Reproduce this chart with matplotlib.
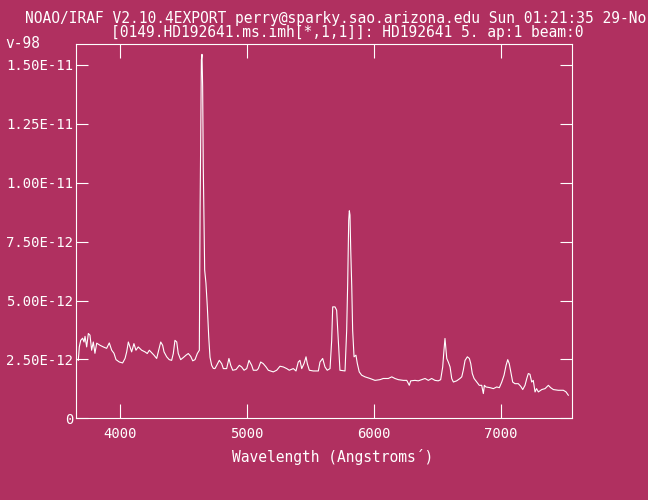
import matplotlib
matplotlib.use('Agg')
import matplotlib.pyplot as plt
from matplotlib.ticker import FuncFormatter

# spectrum: wavelength (Angstroms) and flux (units of 1E-12)
wave = [3675, 3683, 3694, 3709, 3720, 3728, 3741, 3754, 3767, 3780, 3793, 3806,
        3820, 3846, 3872, 3898, 3919, 3938, 3956, 3972, 3998, 4024, 4043, 4056,
        4069, 4082, 4095, 4113, 4129, 4147, 4174, 4200, 4218, 4234, 4253, 4271,
        4292, 4308, 4324, 4339, 4350, 4371, 4391, 4410, 4423, 4436, 4450, 4462,
        4481, 4502, 4523, 4541, 4560, 4576, 4594, 4612, 4628,
        4634, 4639, 4644, 4649, 4654, 4659, 4670, 4680, 4691, 4702, 4712, 4725,
        4738, 4751, 4765, 4785, 4804, 4817, 4843, 4861, 4875, 4891, 4917, 4943,
        4961, 4980, 5001, 5019, 5040, 5053, 5080, 5092, 5111, 5131, 5153, 5171,
        5210, 5237, 5263, 5289, 5316, 5336, 5368, 5389, 5407, 5420, 5434, 5452,
        5468, 5478, 5494, 5525, 5565, 5578, 5599, 5617, 5635, 5657, 5670, 5678,
        5696, 5709, 5722, 5735, 5775, 5788, 5796, 5804, 5809, 5814, 5820, 5828,
        5835, 5846, 5861, 5872, 5887, 5906, 5932, 5972, 6011, 6050, 6076, 6116,
        6143, 6168, 6195, 6234, 6261, 6281, 6292, 6326, 6352, 6379, 6405, 6431,
        6457, 6483, 6509, 6528, 6544, 6554, 6562, 6576, 6588, 6602, 6615, 6628,
        6654, 6680, 6694, 6706, 6720, 6738, 6754, 6765, 6777, 6791, 6812, 6832,
        6851, 6864, 6872, 6885, 6917, 6943, 6969, 6990, 7009, 7027, 7043, 7056,
        7068, 7080, 7095, 7113, 7139, 7158, 7174, 7192, 7206, 7218, 7231, 7245,
        7257, 7271, 7283, 7297, 7324, 7350, 7376, 7394, 7415, 7454, 7494, 7515,
        7533]
flux = [2.46, 3.03, 3.31, 3.40, 3.24, 3.48, 3.03, 3.60, 3.53, 2.89, 3.24, 2.76,
        3.19, 3.10, 3.03, 2.97, 3.20, 2.89, 2.76, 2.49, 2.39, 2.35, 2.54, 2.82,
        3.24, 3.03, 2.82, 3.17, 2.89, 3.03, 2.89, 2.82, 2.75, 2.89, 2.78, 2.68,
        2.54, 2.89, 3.24, 3.10, 2.82, 2.61, 2.49, 2.46, 2.75, 3.31, 3.24, 2.75,
        2.49, 2.58, 2.68, 2.75, 2.63, 2.44, 2.49, 2.75, 2.89,
        8.90, 12.24, 15.21, 15.45, 14.08, 10.68, 6.29, 5.74, 4.72, 3.44, 2.59, 2.25,
        2.12, 2.11, 2.25, 2.46, 2.32, 2.11, 2.11, 2.54, 2.25, 2.04, 2.07, 2.25,
        2.18, 2.04, 2.11, 2.46, 2.25, 2.04, 2.04, 2.11, 2.39, 2.32, 2.18, 2.04,
        1.97, 2.04, 2.21, 2.18, 2.11, 2.04, 2.11, 2.01, 2.39, 2.46, 2.11, 2.32,
        2.61, 2.32, 2.04, 2.01, 2.01, 2.39, 2.54, 2.18, 2.04, 2.11, 3.31, 4.73,
        4.73, 4.59, 3.31, 2.04, 2.01, 3.74, 5.74, 8.41, 8.81, 8.63, 7.14, 5.58,
        3.74, 2.61, 2.68, 2.32, 1.97, 1.83, 1.76, 1.69, 1.61, 1.64, 1.69, 1.69,
        1.76, 1.69, 1.64, 1.61, 1.61, 1.40, 1.59, 1.61, 1.59, 1.64, 1.69, 1.61,
        1.69, 1.61, 1.59, 1.64, 2.18, 2.89, 3.39, 2.54, 2.39, 2.18, 1.69, 1.54,
        1.59, 1.69, 1.76, 2.04, 2.46, 2.61, 2.54, 2.32, 1.90, 1.69, 1.54, 1.40,
        1.40, 1.05, 1.40, 1.33, 1.30, 1.26, 1.33, 1.30, 1.54, 1.83, 2.25, 2.49,
        2.32, 1.97, 1.54, 1.47, 1.47, 1.36, 1.22, 1.40, 1.69, 1.90, 1.87, 1.54,
        1.61, 1.12, 1.26, 1.12, 1.22, 1.26, 1.40, 1.30, 1.22, 1.19, 1.19, 1.12,
        0.98]
flux = [f * 1e-12 for f in flux]

x_ticks = [4000, 5000, 6000, 7000]
y_ticks = [0, 2.5e-12, 5e-12, 7.5e-12, 1e-11, 1.25e-11, 1.5e-11]

title1 = 'NOAO/IRAF V2.10.4EXPORT perry@sparky.sao.arizona.edu Sun 01:21:35 29-No'
title2 = '[0149.HD192641.ms.imh[*,1,1]]: HD192641 5. ap:1 beam:0'
title3 = 'v-98'
x_label = 'Wavelength (Angstroms\u00b4)'

bg = '#B03060'
fg = 'white'
mono = 'DejaVu Sans Mono'

fig = plt.figure(figsize=(6.48, 5.0), dpi=100, facecolor=bg)
ax = fig.add_axes([75.5 / 648, 1 - 418.3 / 500, (572 - 75.5) / 648, (418.3 - 44) / 500])
ax.set_facecolor(bg)

ax.plot(wave, flux, color=fg, lw=0.8)

ax.set_xlim(3653, 7562)
ax.set_ylim(0, 15.89e-12)
ax.set_xticks(x_ticks)
ax.set_yticks(y_ticks)
ax.yaxis.set_major_formatter(FuncFormatter(lambda v, p: '0' if v == 0 else '%.2E' % v))

for s in ax.spines.values():
    s.set_color(fg)
    s.set_linewidth(0.8)
ax.tick_params(axis='x', direction='in', length=9.8, width=0.8, color=fg,
               top=True, labelcolor=fg, pad=6)
ax.tick_params(axis='y', direction='in', length=8.3, width=0.8, color=fg,
               right=True, labelcolor=fg, pad=1.5)
for lab in ax.get_xticklabels() + ax.get_yticklabels():
    lab.set_family(mono)
    lab.set_fontsize(10)

fig.text(25 / 648, 1 - 18.3 / 500, title1, color=fg, family=mono, fontsize=10.5,
         ha='left', va='center')
fig.text(110.7 / 648, 1 - 32 / 500, title2, color=fg, family=mono, fontsize=10.5,
         ha='left', va='center')
fig.text(5 / 648, 1 - 43 / 500, title3, color=fg, family=mono, fontsize=10.5,
         ha='left', va='center')
fig.text(333 / 648, 1 - 456.7 / 500, x_label, color=fg, family=mono, fontsize=10.5,
         ha='center', va='center')

fig.savefig('out.png', dpi=100, facecolor=bg)
